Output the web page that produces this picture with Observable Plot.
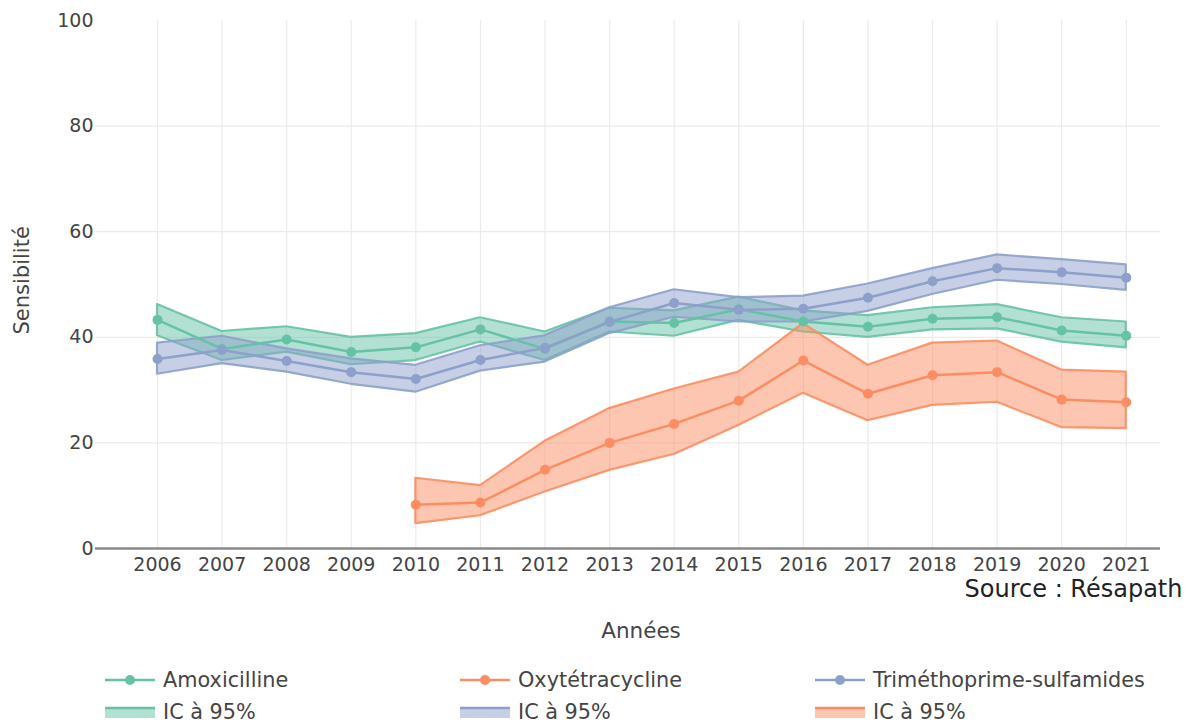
<!DOCTYPE html>
<html>
<head>
<meta charset="utf-8">
<script src="https://cdn.jsdelivr.net/npm/d3@7"></script>
<script src="https://cdn.jsdelivr.net/npm/@observablehq/plot@0.6"></script>
<style>
  body { margin: 0; background: #fff; font-family: "DejaVu Sans", sans-serif; }
  #wrap { position: relative; width: 1191px; height: 725px; }
  #legend { position: absolute; left: 0; top: 650px; width: 1191px; height: 75px; }
  .item { position: absolute; display: flex; align-items: center; font-size: 20.8px; color: #444; white-space: nowrap; }
  .item svg { margin-right: 6px; }
</style>
</head>
<body>
<div id="wrap"><div id="chart"></div><div id="legend"></div></div>
<script>
const years = [2006, 2007, 2008, 2009, 2010, 2011, 2012, 2013, 2014, 2015, 2016, 2017, 2018, 2019, 2020, 2021];
const yTicks = [0, 20, 40, 60, 80, 100];
const seriesNames = ["Amoxicilline", "Oxytétracycline", "Triméthoprime-sulfamides"];
const seriesColors = ["#66c2a5", "#fc8d62", "#8da0cb"];
const bandLabel = "IC à 95%";
const xTitle = "Années";
const yTitle = "Sensibilité";
const sourceText = "Source : Résapath";

const amoxValue = [43.3, 37.8, 39.6, 37.2, 38.1, 41.5, 37.8, 43.0, 42.7, 45.3, 43.0, 42.0, 43.5, 43.8, 41.3, 40.3];
const amoxUpper = [46.2, 41.1, 42.0, 40.0, 40.7, 43.7, 41.0, 45.5, 45.0, 47.6, 45.0, 44.1, 45.6, 46.2, 43.7, 42.9];
const amoxLower = [40.3, 35.6, 37.2, 34.8, 35.6, 39.1, 35.6, 41.0, 40.2, 43.2, 41.0, 40.0, 41.4, 41.6, 39.1, 38.0];

const oxyValue = [null, null, null, null, 8.3, 8.7, 14.9, 20.0, 23.6, 28.0, 35.6, 29.3, 32.8, 33.4, 28.2, 27.7];
const oxyUpper = [null, null, null, null, 13.3, 11.9, 20.3, 26.5, 30.2, 33.4, 42.6, 34.7, 38.9, 39.3, 33.8, 33.4];
const oxyLower = [null, null, null, null, 4.7, 6.2, 10.7, 14.8, 17.8, 23.3, 29.4, 24.2, 27.1, 27.7, 22.9, 22.7];

const trimValue = [35.9, 37.6, 35.5, 33.4, 32.1, 35.7, 38.0, 42.9, 46.5, 45.2, 45.4, 47.5, 50.6, 53.1, 52.3, 51.3];
const trimUpper = [38.9, 40.2, 37.8, 35.9, 34.7, 38.4, 40.3, 45.6, 49.0, 47.5, 47.8, 50.1, 53.0, 55.6, 54.7, 53.7];
const trimLower = [33.0, 35.0, 33.4, 31.1, 29.6, 33.6, 35.3, 40.7, 43.8, 42.9, 42.9, 44.9, 48.1, 50.8, 50.0, 48.9];

const seriesData = [
  [amoxValue, amoxUpper, amoxLower],
  [oxyValue, oxyUpper, oxyLower],
  [trimValue, trimUpper, trimLower]
];
const rows = [];
seriesNames.forEach((name, i) => {
  const [v, u, l] = seriesData[i];
  years.forEach((yr, j) => {
    if (v[j] != null) rows.push({series: name, year: yr, value: v[j], upper: u[j], lower: l[j]});
  });
});

const chart = Plot.plot({
  width: 1191,
  height: 650,
  marginTop: 20,
  marginLeft: 95,
  marginRight: 31,
  marginBottom: 102,
  style: {fontFamily: "DejaVu Sans, sans-serif", fontSize: "19px", color: "#444", background: "#fff"},
  color: {domain: seriesNames, range: seriesColors},
  x: {domain: [2005.04, 2021.53], ticks: years, tickFormat: d => String(d), tickSize: 0, tickPadding: 9, label: null},
  y: {domain: [0, 100], ticks: yTicks, tickSize: 0, tickPadding: 2, label: null},
  marks: [
    Plot.ruleX(years, {stroke: "#ebebeb", strokeWidth: 1.2}),
    Plot.ruleY(yTicks.filter(t => t > 0 && t < 100), {stroke: "#ebebeb", strokeWidth: 1.2}),
    Plot.areaY(rows, {x: "year", y1: "lower", y2: "upper", z: "series", fill: "series", fillOpacity: 0.5,
      stroke: "series", strokeWidth: 2.2, strokeOpacity: 0.9}),
    Plot.line(rows, {x: "year", y: "value", z: "series", stroke: "series", strokeWidth: 2.5}),
    Plot.dot(rows, {x: "year", y: "value", fill: "series", r: 5}),
    Plot.ruleY([0], {stroke: "#8a8a8a", strokeWidth: 2.5}),
    Plot.text([sourceText], {frameAnchor: "bottom-right", dx: 22, dy: 48, fontSize: 24,
      fill: "#222", textAnchor: "end"}),
    Plot.text([xTitle], {frameAnchor: "bottom", dx: 13, dy: 89, fontSize: 21.5, fill: "#444"}),
    Plot.text([yTitle], {frameAnchor: "left", dx: -73, dy: 50, rotate: -90, fontSize: 21, fill: "#444"})
  ]
});
document.getElementById("chart").appendChild(chart);

// Legend
const legend = document.getElementById("legend");
const colX = [105, 460, 815];
function addItem(left, top, svgInner, label) {
  const d = document.createElement("div");
  d.className = "item";
  d.style.left = left + "px";
  d.style.top = top + "px";
  d.innerHTML = `<svg width="52" height="20" viewBox="0 0 52 20">${svgInner}</svg><span>${label}</span>`;
  legend.appendChild(d);
}
seriesNames.forEach((name, i) => {
  const c = seriesColors[i];
  addItem(colX[i], 18, `<line x1="0" x2="50" y1="10" y2="10" stroke="${c}" stroke-width="2.5"/><circle cx="25" cy="10" r="5" fill="${c}"/>`, name);
});
const bandOrder = [0, 2, 1];
bandOrder.forEach((si, k) => {
  const c = seriesColors[si];
  addItem(colX[k], 50, `<rect x="0" y="5" width="50" height="11" fill="${c}" fill-opacity="0.5"/><line x1="0" x2="50" y1="6" y2="6" stroke="${c}" stroke-width="2.5"/>`, bandLabel);
});
</script>
</body>
</html>
